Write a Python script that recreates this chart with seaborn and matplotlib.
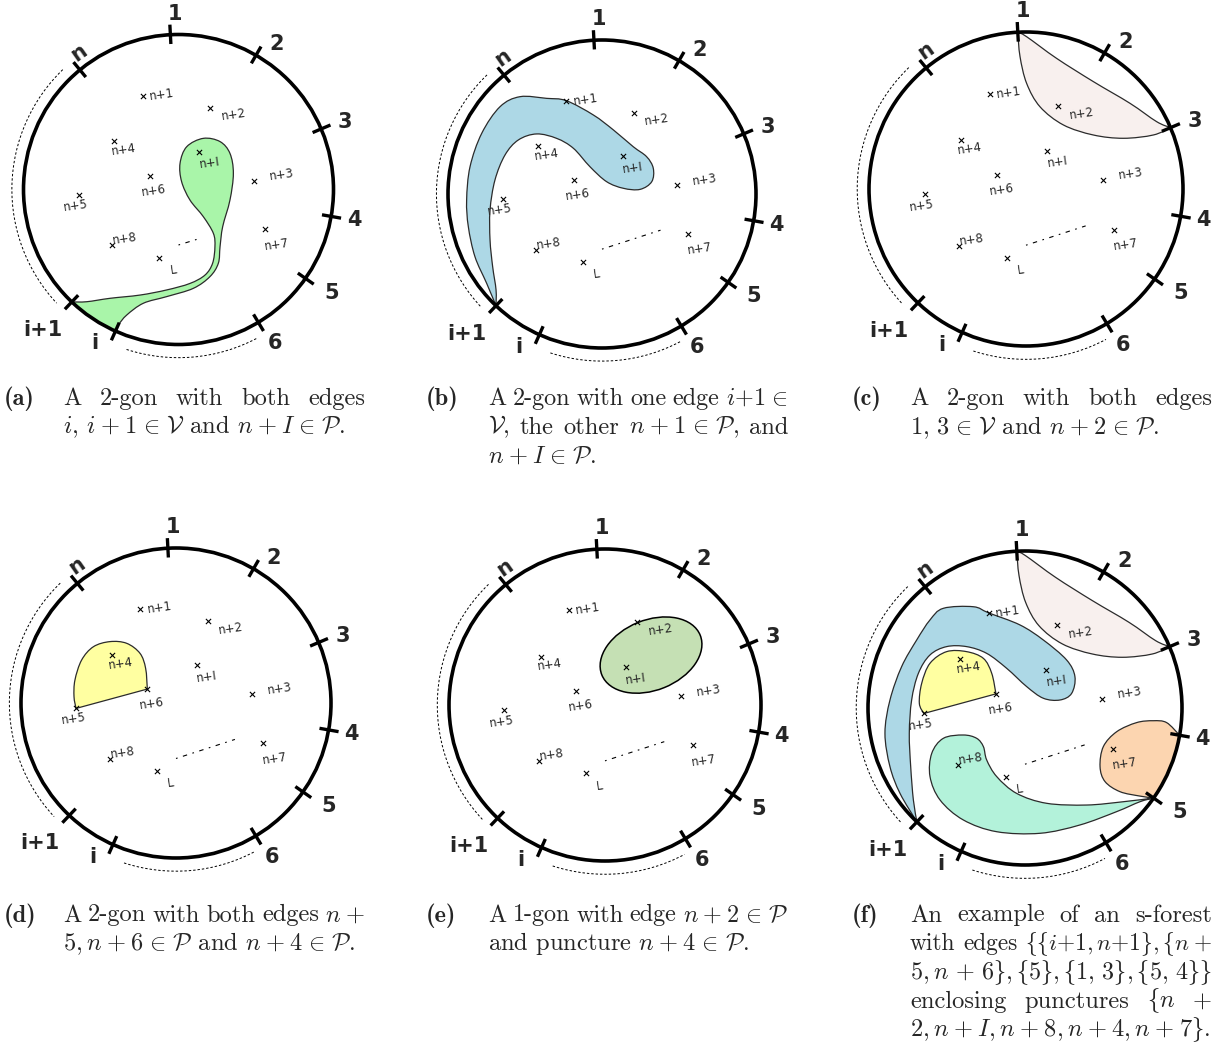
import os
import re
import numpy as np
import matplotlib
matplotlib.use("Agg")
import matplotlib.pyplot as plt
from matplotlib.path import Path
from matplotlib.patches import PathPatch, Ellipse, Circle, Arc
from matplotlib.font_manager import FontProperties
import pandas as pd
import seaborn as sns

sns.set_theme(style="white")
plt.rcParams["mathtext.fontset"] = "cm"
plt.rcParams["axes.formatter.use_mathtext"] = True

W, H, DPI = 1226, 1051, 100

# ---------------------------------------------------------------- data
# marked boundary points of the disc (degrees, counter-clockwise from east)
MARKED_LABELS = ["1", "2", "3", "4", "5", "6", "i", "i+1", "n"]
MARKED_ANGLES = [93, 60, 23, -10, -35, -59, -114, -133.5, 129.5]

# interior punctures, unit-disc coordinates
PUNCTURE_NAMES = ["n+1", "n+2", "n+3", "n+4", "n+5", "n+6", "n+7", "n+8", "n+I", "L"]
PUNCTURE_X = [-0.232, 0.206, 0.490, -0.413, -0.645, -0.185, 0.561, -0.426, 0.135, -0.123]
PUNCTURE_Y = [0.606, 0.529, 0.058, 0.310, -0.035, 0.090, -0.258, -0.361, 0.245, -0.439]

# (a) 2-gon on i, i+1 enclosing n+I
GREEN_A_X = [-0.592, -0.442, -0.248, -0.076, 0.074, 0.171, 0.220, 0.235, 0.225, 0.160,
             0.074, 0.020, 0.010, 0.053, 0.160, 0.268, 0.332, 0.354, 0.332, 0.285,
             0.268, 0.257, 0.203, 0.095, -0.076, -0.227, -0.334, -0.388]
GREEN_A_Y = [-0.724, -0.702, -0.681, -0.648, -0.606, -0.552, -0.476, -0.369, -0.283, -0.175,
             -0.068, 0.051, 0.169, 0.276, 0.330, 0.309, 0.233, 0.104, -0.068, -0.240,
             -0.369, -0.476, -0.562, -0.638, -0.691, -0.734, -0.810, -0.874]

# (b) 2-gon from i+1 through n+1 enclosing n+I
BLUE_B_X = [-0.749, -0.825, -0.868, -0.879, -0.857, -0.781, -0.662, -0.532, -0.359, -0.232,
            -0.056, 0.074, 0.203, 0.290, 0.333, 0.323, 0.247, 0.139, 0.030, -0.078,
            -0.186, -0.294, -0.424, -0.543, -0.630, -0.695, -0.727, -0.727, -0.710, -0.688]
BLUE_B_Y = [-0.580, -0.407, -0.212, -0.039, 0.177, 0.394, 0.567, 0.632, 0.621, 0.606,
            0.513, 0.416, 0.307, 0.242, 0.167, 0.080, 0.030, 0.037, 0.080, 0.177,
            0.297, 0.361, 0.390, 0.351, 0.253, 0.091, -0.104, -0.299, -0.472, -0.623]

# 2-gon on 1 and 3 enclosing n+2 (upper and lower edge)
PINK_UP_X = [0.004, 0.195, 0.429, 0.662, 0.832]
PINK_UP_Y = [0.970, 0.832, 0.684, 0.546, 0.429]
PINK_LO_X = [0.811, 0.620, 0.429, 0.238, 0.089, 0.004, -0.038]
PINK_LO_Y = [0.344, 0.323, 0.344, 0.408, 0.524, 0.673, 0.843]

# (d) 2-gon on n+5, n+6 enclosing n+4
YELLOW_D_X = [-0.196, -0.232, -0.318, -0.426, -0.533, -0.609, -0.652, -0.658]
YELLOW_D_Y = [0.224, 0.320, 0.385, 0.396, 0.363, 0.277, 0.148, 0.041]

# (e) 1-gon through n+2 around n+I: centre, axes, tilt
OVAL_E = dict(cx=0.295, cy=0.32, w=0.68, h=0.45, tilt=22)

# (f) s-forest pieces
BLUE_F_X = [-0.796, -0.860, -0.892, -0.860, -0.786, -0.690, -0.605, -0.520, -0.329, -0.232,
            -0.032, 0.117, 0.265, 0.318, 0.297, 0.223, 0.117, 0.011, -0.117, -0.244,
            -0.372, -0.499, -0.605, -0.679, -0.722, -0.737, -0.728, -0.711]
BLUE_F_Y = [-0.544, -0.374, -0.161, 0.051, 0.263, 0.433, 0.561, 0.635, 0.645, 0.606,
            0.529, 0.433, 0.306, 0.200, 0.093, 0.051, 0.062, 0.136, 0.253, 0.348,
            0.391, 0.391, 0.338, 0.221, 0.051, -0.161, -0.374, -0.586]
YELLOW_F_X = [-0.212, -0.265, -0.372, -0.499, -0.605, -0.658, -0.673]
YELLOW_F_Y = [0.221, 0.316, 0.359, 0.359, 0.285, 0.157, 0.030]
TEAL_F_X = [0.626, 0.393, 0.138, -0.053, -0.180, -0.244, -0.265, -0.308, -0.393, -0.520,
            -0.594, -0.605, -0.541, -0.393, -0.180, 0.096, 0.350, 0.584, 0.732]
TEAL_F_Y = [-0.597, -0.618, -0.607, -0.544, -0.437, -0.331, -0.246, -0.193, -0.172, -0.193,
            -0.289, -0.437, -0.586, -0.713, -0.788, -0.798, -0.745, -0.660, -0.597]
PEACH_F_X = [0.902, 0.817, 0.711, 0.584, 0.499, 0.478, 0.510, 0.605, 0.732]
PEACH_F_Y = [-0.093, -0.081, -0.093, -0.151, -0.246, -0.374, -0.469, -0.533, -0.561]

CAPTION_TAGS = ["(a)", "(b)", "(c)", "(d)", "(e)", "(f)"]
CAPTION_LINES = [
    [(["A", "2-gon", "with", "both", "edges"], True),
     ([r"$i$, $i+1\in\mathcal{V}$ and $n+I\in\mathcal{P}$."], False)],
    [(["A", "2-gon", "with", "one", "edge", r"$i{+}1\in$"], True),
     ([r"$\mathcal{V}$,", "the", "other", r"$n+1\in\mathcal{P}$,", "and"], True),
     ([r"$n+I\in\mathcal{P}$."], False)],
    [(["A", "2-gon", "with", "both", "edges"], True),
     ([r"$1,3\in\mathcal{V}$ and $n+2\in\mathcal{P}$."], False)],
    [(["A", "2-gon", "with", "both", "edges", r"$n+$"], True),
     ([r"$5,n+6\in\mathcal{P}$ and $n+4\in\mathcal{P}$."], False)],
    [(["A", "1-gon", "with", "edge", r"$n+2\in\mathcal{P}$"], True),
     ([r"and puncture $n+4\in\mathcal{P}$."], False)],
    [(["An", "example", "of", "an", "s-forest"], True),
     (["with", "edges", r"$\{\{i{+}1,n{+}1\},\{n+$"], True),
     ([r"$5,n$", r"$+$", r"$6\},\{5\},\{1,3\},\{5,4\}\}$"], True),
     (["enclosing", "punctures", r"$\{n$", r"$+$"], True),
     ([r"$2,n+I,n+8,n+4,n+7\}$."], False)],
]

# ---------------------------------------------------------------- layout
PANEL_CENTERS = [(178.5, 189.5), (602, 194), (1026, 189), (176, 703), (605, 705), (1025, 708)]
PANEL_RADII = [155, 154, 157, 155, 156, 157]
SPAN = 1.4

# where each boundary label sits (radius factor, angle)
LABEL_POLAR = {"1": (1.135, 91), "2": (1.13, 56), "3": (1.16, 22), "4": (1.15, -10),
               "5": (1.19, -34), "6": (1.17, -58), "i": (1.13, -118.5),
               "i+1": (1.26, -134), "n": (1.09, 126)}
# offset of each puncture name from its cross
NAME_DX = [0.124, 0.148, 0.176, 0.057, -0.017, 0.028, 0.073, 0.081, 0.064, 0.089]
NAME_DY = [0.008, -0.048, 0.036, -0.055, -0.070, -0.098, -0.100, 0.040, -0.076, -0.080]

CAP_TAG_X = [4, 426, 852]
CAP_X0 = [63, 488, 910]
CAP_X1 = [365, 788, 1212]
CAP_Y0 = [405, 921.5]
CAP_DY = 28.7
CAP_SIZE = 17.6

OUTLINE = "#2b2b2b"

fig = plt.figure(figsize=(W / DPI, H / DPI), dpi=DPI)
fig.patch.set_facecolor("white")

punct = pd.DataFrame({"name": PUNCTURE_NAMES, "x": PUNCTURE_X, "y": PUNCTURE_Y})
P = {n: np.array([x, y]) for n, x, y in zip(PUNCTURE_NAMES, PUNCTURE_X, PUNCTURE_Y)}
ANG = dict(zip(MARKED_LABELS, MARKED_ANGLES))


def on_circle(deg):
    a = np.deg2rad(deg)
    return np.array([np.cos(a), np.sin(a)])


def smooth(pts):
    """Catmull-Rom curve through pts, as cubic Bezier control points."""
    p = np.vstack([pts[0], pts, pts[-1]])
    out = []
    for k in range(1, len(p) - 2):
        p0, p1, p2, p3 = p[k - 1], p[k], p[k + 1], p[k + 2]
        out += [p1 + (p2 - p0) / 6.0, p2 - (p3 - p1) / 6.0, p2]
    return out


def along_circle(d1, d2):
    if d1 <= d2:
        return list(Path.arc(d1, d2).vertices[1:])
    return list(Path.arc(d2, d1).vertices[::-1][1:])


def straight(a, b):
    return [a + (b - a) / 3.0, a + 2 * (b - a) / 3.0, b]


def region(ax, start, chunks, color):
    verts = [start]
    codes = [Path.MOVETO]
    for c in chunks:
        verts += c
        codes += [Path.CURVE4] * len(c)
    verts.append(start)
    codes.append(Path.CLOSEPOLY)
    ax.add_patch(PathPatch(Path(np.array(verts), codes), facecolor=color,
                           edgecolor=OUTLINE, lw=0.9, zorder=2))


def pts(xs, ys):
    return [np.array([x, y]) for x, y in zip(xs, ys)]


def draw_disc(ax, dots_end):
    ax.add_patch(Circle((0, 0), 1, fill=False, lw=2.6, ec="black", zorder=3))
    for lab, ang in zip(MARKED_LABELS, MARKED_ANGLES):
        c, s = np.cos(np.deg2rad(ang)), np.sin(np.deg2rad(ang))
        ax.plot([0.94 * c, 1.065 * c], [0.94 * s, 1.065 * s], color="black",
                lw=2.4, solid_capstyle="butt", zorder=4)
        rf, la = LABEL_POLAR[lab]
        ax.text(rf * np.cos(np.deg2rad(la)), rf * np.sin(np.deg2rad(la)), lab,
                ha="center", va="center", fontsize=15, fontweight="bold",
                family="DejaVu Sans", rotation=35 if lab == "n" else 0, zorder=5)
    # the omitted stretches of boundary
    ax.add_patch(Arc((0, 0), 2.15, 2.15, theta1=134, theta2=223, lw=0.7,
                     ls=(0, (2.5, 2)), color="black"))
    ax.add_patch(Arc((0, 0), 2.17, 2.17, theta1=-108, theta2=-62, lw=0.7,
                     ls=(0, (2.5, 2)), color="black"))
    # punctures
    sns.scatterplot(data=punct, x="x", y="y", marker="x", s=14, color="black",
                    linewidth=0.8, ax=ax, zorder=6, legend=False)
    for (_, row), dx, dy in zip(punct.iterrows(), NAME_DX, NAME_DY):
        ax.text(row.x + dx, row.y + dy, row["name"], ha="center", va="center",
                fontsize=8.5, family="DejaVu Sans", rotation=8, zorder=6)
    ax.plot([0.0, dots_end[0]], [-0.358, dots_end[1]], color="black", lw=0.8,
            ls=(0, (1.5, 5, 4, 5)), zorder=6)


axes = []
for (cx, cy), r in zip(PANEL_CENTERS, PANEL_RADII):
    half = SPAN * r
    ax = fig.add_axes([(cx - half) / W, 1 - (cy + half) / H, 2 * half / W, 2 * half / H])
    ax.set_xlim(-SPAN, SPAN)
    ax.set_ylim(-SPAN, SPAN)
    ax.set_axis_off()
    axes.append(ax)

ax_a, ax_b, ax_c, ax_d, ax_e, ax_f = axes

# (a)
c_i1, c_i = on_circle(ANG["i+1"]), on_circle(ANG["i"])
region(ax_a, c_i1, [smooth([c_i1] + pts(GREEN_A_X, GREEN_A_Y) + [c_i]),
                    along_circle(ANG["i"], ANG["i+1"])], "#a9f5a9")
# (b)
region(ax_b, c_i1, [smooth([c_i1] + pts(BLUE_B_X, BLUE_B_Y) + [c_i1])], "#add8e6")
# (c) and (f): 2-gon on 1, 3
c1, c3 = on_circle(ANG["1"]), on_circle(ANG["3"])
for ax in (ax_c, ax_f):
    region(ax, c1, [smooth([c1] + pts(PINK_UP_X, PINK_UP_Y) + [c3]),
                    smooth([c3] + pts(PINK_LO_X, PINK_LO_Y) + [c1])], "#f8f0ee")
# (d)
region(ax_d, P["n+6"], [smooth([P["n+6"]] + pts(YELLOW_D_X, YELLOW_D_Y) + [P["n+5"]]),
                        straight(P["n+5"], P["n+6"])], "#ffffa1")
# (e)
ax_e.add_patch(Ellipse((OVAL_E["cx"], OVAL_E["cy"]), OVAL_E["w"], OVAL_E["h"],
                       angle=OVAL_E["tilt"], facecolor="#c5e0b4", edgecolor="black",
                       lw=1.1, zorder=2))
# (f)
region(ax_f, c_i1, [smooth([c_i1] + pts(BLUE_F_X, BLUE_F_Y) + [c_i1])], "#add8e6")
region(ax_f, P["n+6"], [smooth([P["n+6"]] + pts(YELLOW_F_X, YELLOW_F_Y) + [P["n+5"]]),
                        straight(P["n+5"], P["n+6"])], "#ffffa1")
c4, c5 = on_circle(ANG["4"]), on_circle(ANG["5"])
region(ax_f, c5, [smooth([c5] + pts(TEAL_F_X, TEAL_F_Y) + [c5])], "#b3f2da")
region(ax_f, c4, [smooth([c4] + pts(PEACH_F_X, PEACH_F_Y) + [c5]),
                  along_circle(ANG["5"], ANG["4"])], "#fcd5b0")

for k, ax in enumerate(axes):
    draw_disc(ax, (0.14, -0.315) if k == 0 else (0.38, -0.235))

# ---------------------------------------------------------------- captions
renderer = fig.canvas.get_renderer()
CAP_FONT = dict(family="cmr10")
TAG_FONT = FontProperties(fname=os.path.join(matplotlib.get_data_path(),
                                             "fonts", "ttf", "cmb10.ttf"),
                          size=CAP_SIZE)


def tex_fix(s):
    """TeX-like math spacing (mathtext is a little tight around + and the
    relation sign, and does not space commas between digits); text-size
    braces are taken from the cmsy10 symbol font."""
    parts = s.split("$")
    for k in range(1, len(parts), 2):
        m = parts[k]
        if m.strip() != "+":
            m = m.replace(r"\{", r"\mathcal{f}").replace(r"\}", r"\mathcal{g}")
            m = re.sub(r",(?=\d)", r",\\,", m)
            m = re.sub(r"(?<!\{)\+(?!\})", r"\\hspace{0.05}+\\hspace{0.05}", m)
            m = m.replace(r"\in", r"\hspace{0.116}\in\hspace{0.116}")
        parts[k] = m
    return "$".join(parts)


def caption_line(tokens, justified, x0, x1, y):
    tokens = [tex_fix(t) for t in tokens]
    size = CAP_SIZE
    if not justified:
        fig.text(x0 / W, 1 - y / H, " ".join(tokens), ha="left", va="baseline",
                 fontsize=size, **CAP_FONT)
        return
    texts = [fig.text(0, 0, t, ha="left", va="baseline", fontsize=size, **CAP_FONT)
             for t in tokens]
    while True:
        widths = [t.get_window_extent(renderer).width for t in texts]
        gap = (x1 - x0 - sum(widths)) / (len(tokens) - 1)
        if gap >= 0.25 * size * DPI / 72 or size < 14:
            break
        size -= 0.2
        for t in texts:
            t.set_fontsize(size)
    x = x0
    for t, w in zip(texts, widths):
        t.set_position((x / W, 1 - y / H))
        x += w + gap


for k, (tag, lines) in enumerate(zip(CAPTION_TAGS, CAPTION_LINES)):
    col, row = k % 3, k // 3
    y = CAP_Y0[row]
    fig.text(CAP_TAG_X[col] / W, 1 - y / H, tag, ha="left", va="baseline",
             fontproperties=TAG_FONT)
    for tokens, just in lines:
        caption_line(tokens, just, CAP_X0[col], CAP_X1[col], y)
        y += CAP_DY

fig.savefig("out.png", dpi=DPI, facecolor="white")
